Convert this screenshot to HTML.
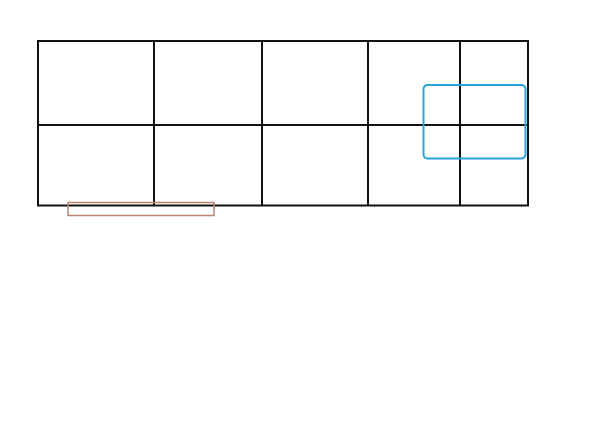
<!DOCTYPE html>
<html><head><style>html,body{margin:0;padding:0;background:#fff;}svg{display:block}</style></head>
<body>
<svg width="600" height="429" viewBox="0 0 600 429" xmlns="http://www.w3.org/2000/svg">
<g stroke="#111" stroke-width="2" fill="none">
<rect x="38" y="41" width="490" height="164.5"/>
<line x1="38" y1="125" x2="528" y2="125"/>
<line x1="154" y1="41" x2="154" y2="205.5"/>
<line x1="262" y1="41" x2="262" y2="205.5"/>
<line x1="368" y1="41" x2="368" y2="205.5"/>
<line x1="460" y1="41" x2="460" y2="205.5"/>
</g>
<rect x="423.5" y="85" width="102" height="73.5" rx="4" fill="none" stroke="#2aa3dc" stroke-width="2"/>
<rect x="68" y="202.5" width="146" height="13" fill="none" stroke="#b88670" stroke-width="1.5"/>
</svg>
</body></html>
